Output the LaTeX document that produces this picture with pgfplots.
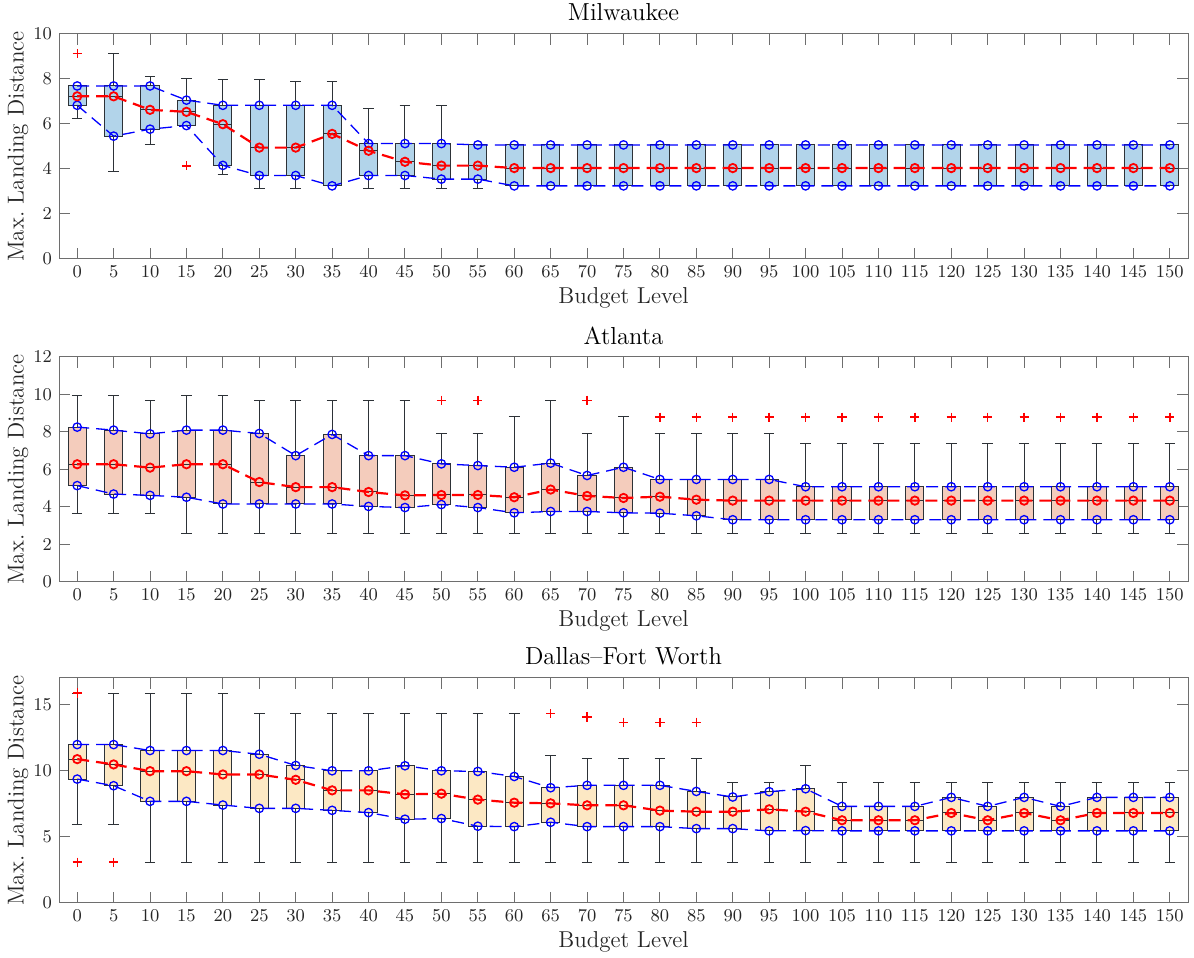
\documentclass[border=0pt]{standalone}
\usepackage{pgfplots}
\pgfplotsset{compat=1.18}
\usepackage{pgfplotstable}
\usepgfplotslibrary{statistics}

\definecolor{milwfill}{RGB}{178,212,234}
\definecolor{atlfill}{RGB}{244,204,188}
\definecolor{dfwfill}{RGB}{252,232,196}
\definecolor{axgray}{RGB}{110,110,110}
\definecolor{boxedge}{RGB}{45,50,55}

% x = budget level, med, q1, q3, lower whisker, upper whisker
\pgfplotstableread{
x med q1 q3 lw uw
0 7.23 6.83 7.69 6.26 7.69
5 7.23 5.46 7.69 3.87 9.14
10 6.63 5.77 7.69 5.07 8.09
15 6.54 5.93 7.06 5.93 8.03
20 5.99 4.16 6.83 3.74 7.96
25 4.95 3.71 6.83 3.15 7.96
30 4.95 3.71 6.83 3.15 7.91
35 5.56 3.25 6.83 3.25 7.91
40 4.81 3.71 5.13 3.15 6.70
45 4.32 3.71 5.13 3.15 6.83
50 4.15 3.55 5.13 3.15 6.83
55 4.15 3.55 5.07 3.15 5.07
60 4.04 3.25 5.07 3.25 5.07
65 4.04 3.25 5.07 3.25 5.07
70 4.04 3.25 5.07 3.25 5.07
75 4.04 3.25 5.07 3.25 5.07
80 4.04 3.25 5.07 3.25 5.07
85 4.04 3.25 5.07 3.25 5.07
90 4.04 3.25 5.07 3.25 5.07
95 4.04 3.25 5.07 3.25 5.07
100 4.04 3.25 5.07 3.25 5.07
105 4.04 3.25 5.07 3.25 5.07
110 4.04 3.25 5.07 3.25 5.07
115 4.04 3.25 5.07 3.25 5.07
120 4.04 3.25 5.07 3.25 5.07
125 4.04 3.25 5.07 3.25 5.07
130 4.04 3.25 5.07 3.25 5.07
135 4.04 3.25 5.07 3.25 5.07
140 4.04 3.25 5.07 3.25 5.07
145 4.04 3.25 5.07 3.25 5.07
150 4.04 3.25 5.07 3.25 5.07
}\milw

\pgfplotstableread{
x med q1 q3 lw uw
0 6.28 5.14 8.26 3.67 9.92
5 6.28 4.69 8.10 3.67 9.92
10 6.10 4.62 7.90 3.67 9.67
15 6.28 4.52 8.10 2.56 9.92
20 6.28 4.16 8.10 2.56 9.92
25 5.33 4.16 7.92 2.56 9.67
30 5.06 4.16 6.74 2.56 9.67
35 5.06 4.16 7.87 2.56 9.67
40 4.80 4.03 6.74 2.56 9.67
45 4.62 3.97 6.74 2.56 9.67
50 4.64 4.13 6.30 2.56 7.92
55 4.64 3.97 6.21 2.56 7.92
60 4.52 3.69 6.12 2.56 8.81
65 4.93 3.76 6.34 2.56 9.67
70 4.59 3.76 5.68 2.56 7.92
75 4.48 3.69 6.12 2.56 8.81
80 4.55 3.67 5.47 2.56 7.92
85 4.39 3.53 5.47 2.56 7.92
90 4.34 3.32 5.47 2.56 7.92
95 4.34 3.32 5.47 2.56 7.92
100 4.34 3.32 5.08 2.56 7.36
105 4.34 3.32 5.08 2.56 7.36
110 4.34 3.32 5.08 2.56 7.36
115 4.34 3.32 5.08 2.56 7.36
120 4.34 3.32 5.08 2.56 7.36
125 4.34 3.32 5.08 2.56 7.36
130 4.34 3.32 5.08 2.56 7.36
135 4.34 3.32 5.08 2.56 7.36
140 4.34 3.32 5.08 2.56 7.36
145 4.34 3.32 5.08 2.56 7.36
150 4.34 3.32 5.08 2.56 7.36
}\atl

\pgfplotstableread{
x med q1 q3 lw uw
0 10.87 9.36 11.97 5.90 15.86
5 10.47 8.86 11.97 5.90 15.86
10 9.96 7.68 11.52 3.09 15.86
15 9.96 7.68 11.52 3.09 15.86
20 9.71 7.40 11.52 3.09 15.86
25 9.71 7.15 11.24 3.09 14.31
30 9.31 7.15 10.39 3.09 14.31
35 8.51 7.00 9.99 3.09 14.31
40 8.51 6.83 9.99 3.09 14.31
45 8.21 6.33 10.37 3.09 14.31
50 8.26 6.38 9.99 3.09 14.31
55 7.81 5.80 9.94 3.09 14.31
60 7.58 5.77 9.56 3.09 14.31
65 7.53 6.10 8.71 3.09 11.14
70 7.38 5.77 8.89 3.09 10.89
75 7.38 5.77 8.89 3.09 10.89
80 6.98 5.77 8.89 3.09 10.89
85 6.90 5.62 8.43 3.09 10.89
90 6.90 5.62 8.01 3.09 9.11
95 7.08 5.45 8.41 3.09 9.11
100 6.90 5.47 8.63 3.09 10.42
105 6.25 5.45 7.30 3.09 9.11
110 6.25 5.45 7.30 3.09 9.11
115 6.25 5.45 7.30 3.09 9.11
120 6.80 5.45 7.98 3.09 9.11
125 6.25 5.45 7.30 3.09 9.11
130 6.80 5.45 7.98 3.09 9.11
135 6.25 5.45 7.30 3.09 9.11
140 6.80 5.45 7.98 3.09 9.11
145 6.80 5.45 7.98 3.09 9.11
150 6.80 5.45 7.98 3.09 9.11
}\dfw

\newcommand\drawboxes[2]{%
  \pgfplotsforeachungrouped \i in {0,...,30}{%
    \pgfplotstablegetelem{\i}{x}\of{#1}\let\bx\pgfplotsretval
    \pgfplotstablegetelem{\i}{med}\of{#1}\let\bm\pgfplotsretval
    \pgfplotstablegetelem{\i}{q1}\of{#1}\let\bqa\pgfplotsretval
    \pgfplotstablegetelem{\i}{q3}\of{#1}\let\bqc\pgfplotsretval
    \pgfplotstablegetelem{\i}{lw}\of{#1}\let\blw\pgfplotsretval
    \pgfplotstablegetelem{\i}{uw}\of{#1}\let\buw\pgfplotsretval
    \edef\doplot{\noexpand\addplot[boxstyle, fill=#2,
      boxplot prepared={draw position=\bx, median=\bm,
        lower quartile=\bqa, upper quartile=\bqc,
        lower whisker=\blw, upper whisker=\buw}] coordinates {};}%
    \doplot
  }%
}

\pgfplotsset{
  boxstyle/.style={draw=boxedge, line width=0.5pt, solid,
    boxplot/draw direction=y, boxplot/box extend=2.5, boxplot/whisker extend=1.45},
  medline/.style={red, line width=1.1pt, dash pattern=on 6pt off 3.5pt,
    mark=o, mark size=2.1pt, mark options={solid, line width=0.9pt}},
  qline/.style={blue, line width=0.65pt, dash pattern=on 6pt off 3.5pt,
    mark=o, mark size=2.1pt, mark options={solid, line width=0.65pt}},
  outl/.style={only marks, mark=+, mark size=2.3pt, color=red, mark options={draw=red, line width=0.7pt}},
  panel/.style={
    anchor=south west, scale only axis, width=564.5pt, height=112.5pt,
    xmin=-2.5, xmax=152.5, xtick={0,5,...,150},
    tick align=inside, major tick length=5.5pt,
    axis line style={axgray, line width=0.5pt},
    tick style={axgray, line width=0.5pt},
    ticklabel style={font=\fontsize{8.6}{10}\selectfont, text=black!85},
    xlabel={Budget Level}, ylabel={Max.\ Landing Distance},
    label style={font=\fontsize{11.5}{13}\selectfont, text=black!85},
    xlabel style={at={(axis description cs:0.5,0)}, anchor=center, yshift=-19.5pt},
    ylabel style={at={(axis description cs:0,0.5)}, anchor=center, yshift=20.5pt},
    title style={font=\fontsize{12.3}{14}\selectfont, at={(axis description cs:0.5,1)}, anchor=center, yshift=4.8pt},
    clip=false,
  },
}

\begin{document}
\begin{tikzpicture}
\useasboundingbox (0,0) rectangle (597pt,479pt);

\begin{axis}[panel, at={(29.5pt,349.5pt)}, ymin=0, ymax=10, ytick={0,2,...,10}, title={Milwaukee}]
\drawboxes{\milw}{milwfill}
\addplot[qline] table[x=x, y=q3]{\milw};
\addplot[qline] table[x=x, y=q1]{\milw};
\addplot[medline] table[x=x, y=med]{\milw};
\addplot[outl] coordinates {(0,9.13) (15,4.14)};
\end{axis}

\begin{axis}[panel, at={(29.5pt,188pt)}, ymin=0, ymax=12, ytick={0,2,...,12}, title={Atlanta}]
\drawboxes{\atl}{atlfill}
\addplot[qline] table[x=x, y=q3]{\atl};
\addplot[qline] table[x=x, y=q1]{\atl};
\addplot[medline] table[x=x, y=med]{\atl};
\addplot[outl] coordinates {(50,9.69) (55,9.69) (70,9.69)
  (80,8.79) (85,8.79) (90,8.79) (95,8.79) (100,8.79) (105,8.79) (110,8.79)
  (115,8.79) (120,8.79) (125,8.79) (130,8.79) (135,8.79) (140,8.79) (145,8.79) (150,8.79)};
\end{axis}

\begin{axis}[panel, at={(29.5pt,27.5pt)}, ymin=0, ymax=17, ytick={0,5,10,15}, title={Dallas--Fort Worth}]
\drawboxes{\dfw}{dfwfill}
\addplot[qline] table[x=x, y=q3]{\dfw};
\addplot[qline] table[x=x, y=q1]{\dfw};
\addplot[medline] table[x=x, y=med]{\dfw};
\addplot[outl] coordinates {(0,15.86) (0,3.09) (5,3.09) (65,14.31) (70,14.06)
  (75,13.65) (80,13.65) (85,13.65)};
\end{axis}
\end{tikzpicture}
\end{document}
